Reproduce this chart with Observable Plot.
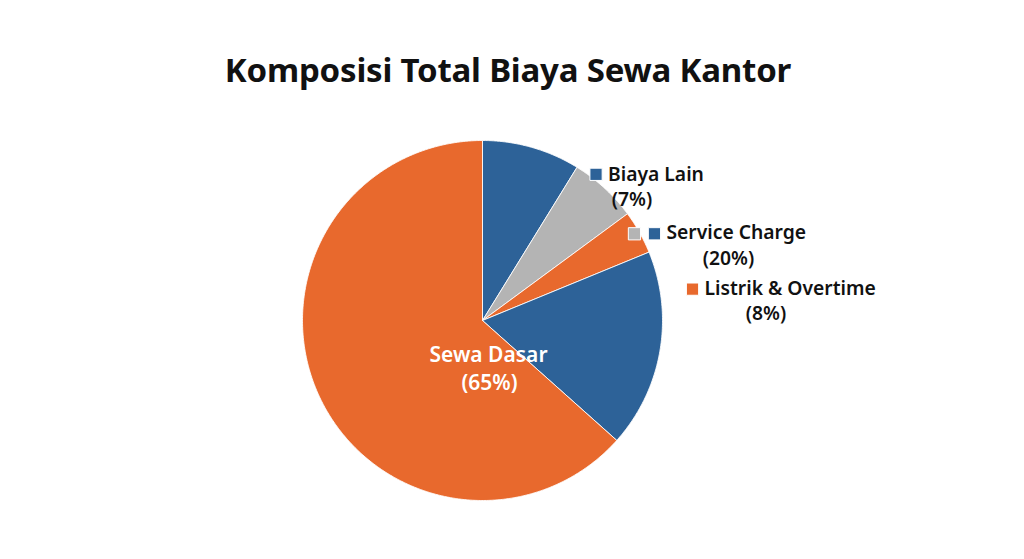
<!DOCTYPE html>
<html>
<head>
<meta charset="utf-8">
<script src="https://cdn.jsdelivr.net/npm/d3@7"></script>
<script src="https://cdn.jsdelivr.net/npm/@observablehq/plot@0.6"></script>
<style>
  html, body { margin: 0; padding: 0; background: #ffffff; }
  body { width: 1024px; height: 559px; overflow: hidden; font-family: "Noto Sans", sans-serif; }
  #title {
    height: 110px; box-sizing: border-box; padding-top: 48px; padding-right: 8px;
    text-align: center; font-size: 33px; font-weight: 700; color: #111111;
    line-height: 1.362; letter-spacing: -0.2px; white-space: nowrap;
  }
  #chart svg { display: block; }
</style>
</head>
<body>
<div id="title">Komposisi Total Biaya Sewa Kantor</div>
<div id="chart"></div>
<script>
// ---- data ----
const categories = ["Biaya Lain", "Lainnya", "Listrik & Overtime", "Service Charge", "Sewa Dasar"];
const shares = [8.8, 6.1, 3.9, 17.8, 63.4]; // drawn slice sizes, clockwise from 12 o'clock
const sliceColors = ["#2d6298", "#b4b4b4", "#e8692d", "#2d6298", "#e8692d"];
const labelNames = ["Biaya Lain", "Service Charge", "Listrik & Overtime"];
const labelPercents = ["(7%)", "(20%)", "(8%)"];
const labelSquares = [["Biaya Lain"], ["Lainnya", "Service Charge"], ["Listrik & Overtime"]];
const centerName = "Sewa Dasar";
const centerPercent = "(65%)";

// ---- layout (pixels) ----
const W = 1024, H = 449, R = 180, CX = 482, CY = 210;
const labelLayout = [
  {sq: [[19, 7]], name: [31, 7], pct: [55, 32]},
  {sq: [[7, 20], [27, 20]], name: [39, 19], pct: [101, 45]},
  {sq: [[43.5, 37]], name: [55.5, 37], pct: [117, 62]}
];
const font = {fontFamily: "Noto Sans", fontWeight: 600, fontSize: 19.3};
const centerFont = {fontFamily: "Noto Sans", fontWeight: 600, fontSize: 21};

// ---- pie geometry from the data ----
const arcs = d3.pie().sort(null).value(d => d.value)(
  categories.map((c, i) => ({category: c, value: shares[i]}))
);
const wedgePoints = arcs.flatMap(a => {
  const category = a.data.category;
  const n = Math.max(2, Math.ceil((a.endAngle - a.startAngle) / (Math.PI / 360)));
  const pts = [{category, x: 0, y: 0}];
  for (let k = 0; k <= n; k++) {
    const t = a.startAngle + (a.endAngle - a.startAngle) * k / n;
    pts.push({category, x: Math.sin(t), y: Math.cos(t)});
  }
  pts.push({category, x: 0, y: 0});
  return pts;
});

// label anchors: the slice boundaries on the pie edge
const anchors = labelNames.map((name, i) => {
  const t = arcs[i + 1].startAngle;
  return {name, pct: labelPercents[i], x: Math.sin(t), y: Math.cos(t)};
});

const marks = [
  Plot.line(wedgePoints, {
    x: "x", y: "y", z: "category", fill: "category",
    stroke: "#ffffff", strokeWidth: 1, strokeOpacity: 0.85, curve: "linear"
  })
];

anchors.forEach((a, i) => {
  const L = labelLayout[i];
  labelSquares[i].forEach((cat, j) => {
    marks.push(Plot.dot([{...a, category: cat}], {
      x: "x", y: "y", fill: "category", symbol: "square", r: 6.9,
      stroke: "#ffffff", strokeWidth: 1, dx: L.sq[j][0], dy: L.sq[j][1]
    }));
  });
  marks.push(Plot.text([a], {
    x: "x", y: "y", text: "name", textAnchor: "start", fill: "#111111",
    dx: L.name[0], dy: L.name[1], ...font
  }));
  marks.push(Plot.text([a], {
    x: "x", y: "y", text: "pct", textAnchor: "middle", fill: "#111111",
    dx: L.pct[0], dy: L.pct[1], ...font
  }));
});

const center = [{name: centerName, pct: centerPercent, x: 0, y: 0}];
marks.push(Plot.text(center, {x: "x", y: "y", text: "name", fill: "#ffffff", dx: 6, dy: 35, ...centerFont}));
marks.push(Plot.text(center, {x: "x", y: "y", text: "pct", fill: "#ffffff", dx: 7, dy: 63, ...centerFont}));

const chart = Plot.plot({
  width: W, height: H,
  marginTop: 0, marginRight: 0, marginBottom: 0, marginLeft: 0,
  style: {background: "transparent", overflow: "visible"},
  x: {domain: [-CX / R, (W - CX) / R], axis: null},
  y: {domain: [-(H - CY) / R, CY / R], axis: null},
  color: {type: "ordinal", domain: categories, range: sliceColors},
  marks
});
document.getElementById("chart").appendChild(chart);
</script>
</body>
</html>
